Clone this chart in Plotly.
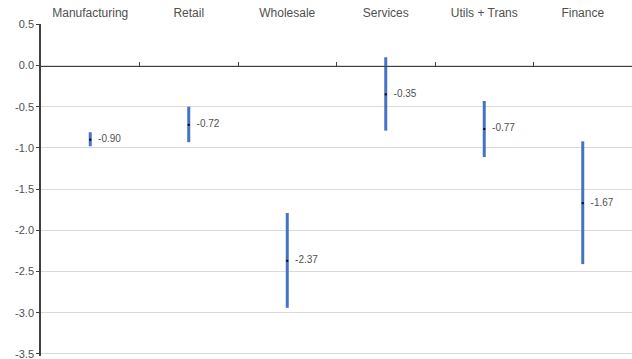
import plotly.graph_objects as go

categories = ["Manufacturing", "Retail", "Wholesale", "Services", "Utils + Trans", "Finance"]
means = [-0.90, -0.72, -2.37, -0.35, -0.77, -1.67]
lows = [-0.98, -0.93, -2.94, -0.79, -1.11, -2.41]
highs = [-0.81, -0.50, -1.79, 0.10, -0.43, -0.92]
y_ticks = [0.5, 0.0, -0.5, -1.0, -1.5, -2.0, -2.5, -3.0, -3.5]
labels = [f"{v:.2f}" for v in means]

bar_color = "#4472C4"
text_color = "#505050"
axis_color = "#404040"
font_family = "Liberation Sans, Arial, sans-serif"

fig = go.Figure()
fig.add_trace(go.Scatter(
    x=categories,
    y=means,
    mode="markers+text",
    marker=dict(symbol="square", size=2, color="#000000", line=dict(width=0)),
    text=["  " + t for t in labels],
    textposition="middle right",
    textfont=dict(size=10, color=text_color, family=font_family),
    error_y=dict(
        type="data",
        symmetric=False,
        array=[h - m for h, m in zip(highs, means)],
        arrayminus=[m - l for m, l in zip(means, lows)],
        thickness=3,
        width=0,
        color=bar_color,
    ),
    showlegend=False,
    cliponaxis=False,
))

n = len(categories)
y_min, y_max = min(y_ticks), max(y_ticks)
pad_top, pad_bot = 0.004, 0.025
lo, hi = y_min - pad_bot, y_max + pad_top
zero_pos = (0 - lo) / (hi - lo)

# invisible trace so that the zero-line axis (x2) is rendered
fig.add_trace(go.Scatter(
    x=[0], y=[0], xaxis="x2", yaxis="y",
    mode="markers", marker=dict(opacity=0), showlegend=False, hoverinfo="skip",
))

fig.update_layout(
    width=632,
    height=359,
    margin=dict(l=41, r=0, t=24, b=3),
    paper_bgcolor="white",
    plot_bgcolor="white",
    font=dict(family=font_family, color=text_color, size=11),
    xaxis=dict(
        type="category",
        categoryarray=categories,
        range=[-0.5, n - 0.5],
        side="top",
        showline=False,
        showgrid=False,
        ticks="",
        ticklabelstandoff=4,
        tickfont=dict(size=12, color=text_color),
        zeroline=False,
    ),
    xaxis2=dict(
        overlaying="x",
        anchor="free",
        position=zero_pos,
        side="bottom",
        type="linear",
        range=[-0.5, n - 0.5],
        tickvals=[i + 0.5 for i in range(n - 1)],
        ticks="inside",
        ticklen=4,
        tickcolor=axis_color,
        showticklabels=False,
        showline=True,
        linecolor=axis_color,
        linewidth=1,
        showgrid=False,
        zeroline=False,
    ),
    yaxis=dict(
        range=[lo, hi],
        tickvals=y_ticks,
        ticktext=[f"{v:.1f}" for v in y_ticks],
        ticklabeloverflow="allow",
        showline=True,
        linecolor=axis_color,
        linewidth=1.5,
        ticks="outside",
        ticklen=3,
        tickcolor=axis_color,
        showgrid=True,
        gridcolor="#d9d9d9",
        gridwidth=1,
        zeroline=False,
        tickfont=dict(size=11, color=text_color),
    ),
)

fig.write_html("out.html")
